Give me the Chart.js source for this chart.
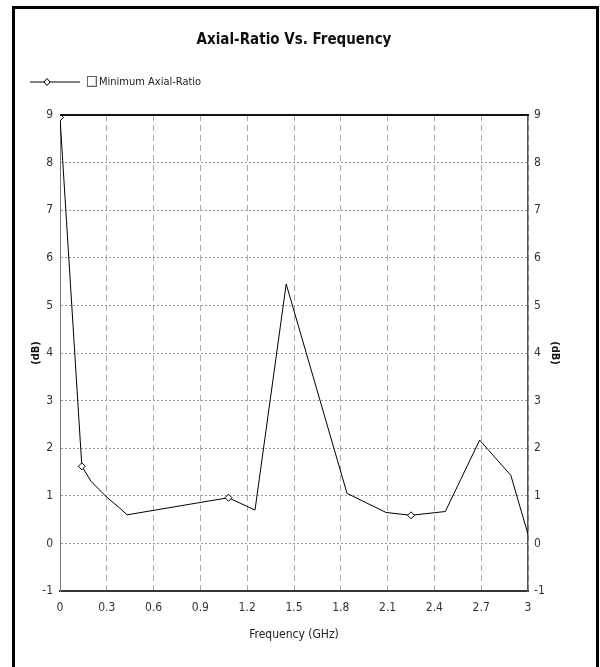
<!DOCTYPE html>
<html>
<head>
<meta charset="utf-8">
<script src="https://cdn.jsdelivr.net/npm/chart.js@4.4.1/dist/chart.umd.min.js"></script>
<style>
  html, body { margin: 0; padding: 0; background: #fff; }
  #frame {
    position: absolute; left: 12px; top: 6px;
    width: 581px; height: 661px;
    border: 3px solid #000; border-bottom: none;
    background: #fff;
  }
  #frame canvas { display: block; }
</style>
</head>
<body>
<div id="frame"><canvas id="arChart" width="581" height="658"></canvas></div>
<script>
// Frequency (GHz) and minimum axial ratio (dB)
const freqGHz = [0, 0.14, 0.2, 0.3, 0.38, 0.43, 1.08, 1.25, 1.45, 1.84, 2.09, 2.25, 2.47, 2.69, 2.89, 3.0];
const axialRatio = [8.95, 1.62, 1.3, 0.97, 0.75, 0.6, 0.96, 0.7, 5.45, 1.05, 0.65, 0.59, 0.67, 2.17, 1.43, 0.19];
// points that carry a diamond marker
const markerAt = [0, 1, 6, 11];

const xTicks = [0, 0.3, 0.6, 0.9, 1.2, 1.5, 1.8, 2.1, 2.4, 2.7, 3];
const yTicks = [-1, 0, 1, 2, 3, 4, 5, 6, 7, 8, 9];

const FONT = "'Liberation Sans Narrow', 'DejaVu Sans Condensed', 'Arial Narrow', sans-serif";
const legendText = 'Minimum Axial-Ratio';

// Legend drawn by hand: line with diamond, then an empty check box
const legendPlugin = {
  id: 'arLegend',
  afterDraw(chart) {
    const c = chart.ctx;
    const y = 73;
    c.save();
    c.strokeStyle = '#000';
    c.lineWidth = 1;
    c.beginPath();
    c.moveTo(15, y);
    c.lineTo(65, y);
    c.stroke();
    // diamond
    c.fillStyle = '#fff';
    c.beginPath();
    c.moveTo(32, y - 3.5);
    c.lineTo(35, y);
    c.lineTo(32, y + 3.5);
    c.lineTo(29, y);
    c.closePath();
    c.fill();
    c.stroke();
    // check box
    c.strokeStyle = '#666';
    c.strokeRect(72.5, 67.5, 9, 10);
    c.strokeStyle = '#ccc';
    c.beginPath();
    c.moveTo(73.5, 76.5);
    c.lineTo(80.5, 76.5);
    c.lineTo(80.5, 68.5);
    c.stroke();
    c.fillStyle = '#222';
    c.font = '11px ' + FONT;
    c.textBaseline = 'middle';
    c.fillText(legendText, 84, y);
    c.restore();
  }
};

// Black top edge of the plot area
const topEdgePlugin = {
  id: 'topEdge',
  afterDatasetsDraw(chart) {
    const a = chart.chartArea;
    const c = chart.ctx;
    c.save();
    c.strokeStyle = '#111';
    c.lineWidth = 2;
    c.beginPath();
    c.moveTo(a.left, a.top);
    c.lineTo(a.right + 1, a.top);
    c.stroke();
    c.restore();
  }
};

const points = freqGHz.map((f, i) => ({ x: f, y: axialRatio[i] }));

const ctx = document.getElementById('arChart').getContext('2d');
const arChart = new Chart(ctx, {
  type: 'line',
  data: {
    datasets: [{
      label: legendText,
      data: points,
      borderColor: '#000',
      borderWidth: 1,
      tension: 0,
      fill: false,
      pointStyle: 'rectRot',
      pointRadius: freqGHz.map((f, i) => markerAt.includes(i) ? 3.5 : 0),
      pointBackgroundColor: '#fff',
      pointBorderColor: '#000',
      pointBorderWidth: 1
    }]
  },
  options: {
    responsive: false,
    animation: false,
    layout: { padding: 0 },
    plugins: {
      legend: { display: false },
      tooltip: { enabled: false },
      title: {
        display: true,
        fullSize: false,
        text: 'Axial-Ratio Vs. Frequency',
        color: '#111',
        font: { family: FONT, size: 15, weight: 'bold' },
        padding: { top: 22, bottom: 66 }
      }
    },
    scales: {
      x: {
        type: 'linear',
        min: 0,
        max: 3,
        afterBuildTicks: s => { s.ticks = xTicks.map(v => ({ value: v })); },
        afterFit: s => { s.height = 76; },
        ticks: {
          color: '#333',
          padding: 10,
          font: { family: FONT, size: 12 },
          callback: v => String(v)
        },
        grid: { color: '#aaa', drawTicks: false, tickLength: 0 },
        border: { color: '#333', width: 2, dash: [6, 4] },
        title: {
          display: true,
          text: 'Frequency (GHz)',
          color: '#222',
          font: { family: FONT, size: 12 },
          padding: { top: 0, bottom: 25 }
        }
      },
      y: {
        position: 'left',
        min: -1,
        max: 9,
        afterBuildTicks: s => { s.ticks = yTicks.map(v => ({ value: v })); },
        afterFit: s => { s.width = 45; },
        ticks: {
          color: '#333',
          padding: 7,
          font: { family: FONT, size: 12 }
        },
        grid: { color: '#999', drawTicks: false, tickLength: 0 },
        border: { color: '#777', width: 1, dash: [2, 2] },
        title: {
          display: true,
          text: '(dB)',
          color: '#111',
          font: { family: FONT, size: 11, weight: 'bold' },
          padding: { top: 15, bottom: 0 }
        }
      },
      y2: {
        position: 'right',
        min: -1,
        max: 9,
        afterBuildTicks: s => { s.ticks = yTicks.map(v => ({ value: v })); },
        afterFit: s => { s.width = 68; },
        ticks: {
          color: '#333',
          padding: 6,
          font: { family: FONT, size: 12 }
        },
        grid: { display: false, drawTicks: false },
        border: { color: '#555', width: 1.5 },
        title: {
          display: true,
          text: '(dB)',
          color: '#111',
          font: { family: FONT, size: 11, weight: 'bold' },
          padding: { top: 35, bottom: 0 }
        }
      }
    }
  },
  plugins: [legendPlugin, topEdgePlugin]
});
</script>
</body>
</html>
